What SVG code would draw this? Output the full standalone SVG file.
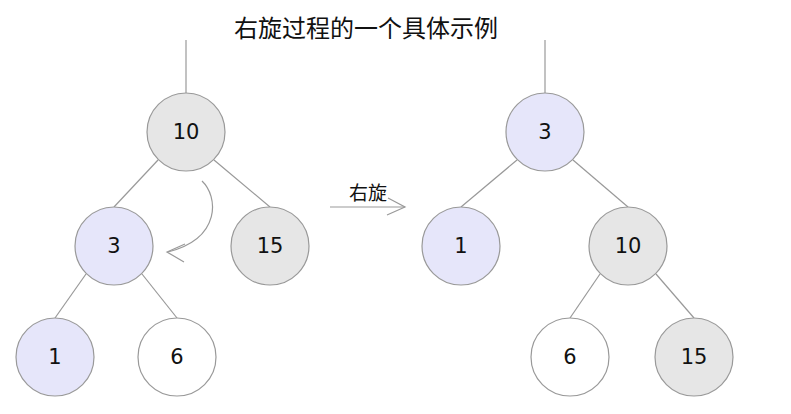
<svg xmlns="http://www.w3.org/2000/svg" width="791" height="414" viewBox="0 0 791 414">
<style>
.n{stroke:#999;stroke-width:1.2}
.g{fill:#e6e6e6}
.p{fill:#e6e6fa}
.w{fill:#fff}
.t{font-family:"DejaVu Sans",sans-serif;font-size:21px;fill:#111;text-anchor:middle}
.c{font-family:"DejaVu Sans","Noto Sans CJK SC",sans-serif;fill:#111;text-anchor:middle}
.e{stroke:#999;stroke-width:1.2;fill:none}
</style>
<rect width="791" height="414" fill="#fff"/>
<text class="c" x="366" y="37" font-size="24">右旋过程的一个具体示例</text>
<g id="connectors">
<line class="e" x1="186" y1="40" x2="186" y2="93"/>
<line class="e" x1="158" y1="160" x2="114" y2="207"/>
<line class="e" x1="214" y1="160" x2="270" y2="207"/>
<line class="e" x1="86" y1="274" x2="55" y2="318"/>
<line class="e" x1="142" y1="274" x2="177" y2="318"/>
<line class="e" x1="545" y1="40" x2="545" y2="93"/>
<line class="e" x1="517" y1="160" x2="461" y2="207"/>
<line class="e" x1="573" y1="160" x2="628" y2="207"/>
<line class="e" x1="600" y1="274" x2="570" y2="318"/>
<line class="e" x1="656" y1="274" x2="694" y2="318"/>
<path class="e" d="M202,181 C218,196 222,238 168,252"/>
<path class="e" d="M185,244 L167,252 L184,262"/>
<line class="e" x1="330" y1="207" x2="405" y2="207"/>
<path class="e" d="M388,198 L405,207 L387,215"/>
<text class="c" x="368" y="200" font-size="19">右旋</text>
</g>
<g id="L10"><circle class="n g" cx="186" cy="132" r="39"/><text class="t" x="186" y="139">10</text></g>
<g id="L3"><circle class="n p" cx="114" cy="246" r="39"/><text class="t" x="114" y="253">3</text></g>
<g id="L15"><circle class="n g" cx="270" cy="246" r="39"/><text class="t" x="270" y="253">15</text></g>
<g id="L1"><circle class="n p" cx="55" cy="357" r="39"/><text class="t" x="55" y="364">1</text></g>
<g id="L6"><circle class="n w" cx="177" cy="357" r="39"/><text class="t" x="177" y="364">6</text></g>
<g id="R3"><circle class="n p" cx="545" cy="132" r="39"/><text class="t" x="545" y="139">3</text></g>
<g id="R1"><circle class="n p" cx="461" cy="246" r="39"/><text class="t" x="461" y="253">1</text></g>
<g id="R10"><circle class="n g" cx="628" cy="246" r="39"/><text class="t" x="628" y="253">10</text></g>
<g id="R6"><circle class="n w" cx="570" cy="357" r="39"/><text class="t" x="570" y="364">6</text></g>
<g id="R15"><circle class="n g" cx="694" cy="357" r="39"/><text class="t" x="694" y="364">15</text></g>
</svg>
